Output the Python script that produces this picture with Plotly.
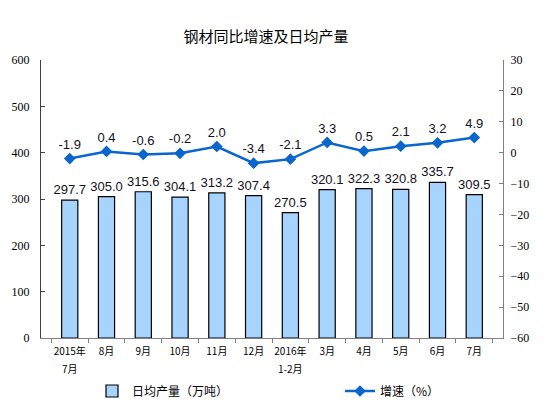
import plotly.graph_objects as go

# data
MONTHS = ["2015年", "8月", "9月", "10月", "11月", "12月",
          "2016年", "3月", "4月", "5月", "6月", "7月"]
MONTHS_LINE2 = ["7月", "", "", "", "", "", "1-2月", "", "", "", "", ""]
DAILY_OUTPUT = [297.7, 305.0, 315.6, 304.1, 313.2, 307.4,
                270.5, 320.1, 322.3, 320.8, 335.7, 309.5]
GROWTH = [-1.9, 0.4, -0.6, -0.2, 2.0, -3.4, -2.1, 3.3, 0.5, 2.1, 3.2, 4.9]

BAR_FILL = "#A6D4FF"
LINE_BLUE = "#0A66CC"
CJK = "Noto Sans CJK SC"
NUM = "Liberation Sans"
AXIS_NUM = "Liberation Serif"

fig = go.Figure()

fig.add_trace(
    go.Bar(
        x=MONTHS,
        y=DAILY_OUTPUT,
        name="日均产量（万吨）",
        marker=dict(color=BAR_FILL, line=dict(color="#000000", width=1.2)),
        text=[f"{v:.1f}" for v in DAILY_OUTPUT],
        textposition="outside",
        constraintext="none",
        textfont=dict(family=NUM, size=13, color="#111122"),
        cliponaxis=False,
        yaxis="y",
        legend="legend",
    )
)

fig.add_trace(
    go.Scatter(
        x=MONTHS,
        y=GROWTH,
        name="增速（%）",
        mode="lines+markers+text",
        line=dict(color=LINE_BLUE, width=2.5),
        marker=dict(symbol="diamond", size=9, color=LINE_BLUE),
        text=[f"{v:.1f}" for v in GROWTH],
        textposition="top center",
        textfont=dict(family=NUM, size=13, color="#111122"),
        cliponaxis=False,
        yaxis="y2",
        legend="legend2",
    )
)

# second line of the two-row category labels
for month, extra in zip(MONTHS, MONTHS_LINE2):
    if extra:
        fig.add_annotation(
            x=month, xref="x", y=0, yref="paper",
            text=extra, showarrow=False,
            yanchor="top", yshift=-21,
            font=dict(family=CJK, size=10, color="#000000"),
        )

legend_common = dict(
    orientation="h",
    xref="container",
    yref="container",
    xanchor="left",
    yanchor="middle",
    font=dict(family=CJK, size=12, color="#000000"),
    bgcolor="rgba(0,0,0,0)",
)

fig.update_layout(
    width=554,
    height=412,
    plot_bgcolor="white",
    paper_bgcolor="white",
    margin=dict(l=41, r=51, t=60, b=74),
    bargap=0.56,
    showlegend=True,
    title=dict(
        text="钢材同比增速及日均产量",
        x=0.48,
        xanchor="center",
        y=0.91,
        yanchor="middle",
        font=dict(family=CJK, size=15, color="#000000"),
    ),
    xaxis=dict(
        type="category",
        showline=True,
        linecolor="#808080",
        linewidth=1,
        ticks="outside",
        tickson="boundaries",
        ticklen=4,
        tickcolor="#808080",
        tickangle=0,
        ticklabelstandoff=4,
        tickfont=dict(family=CJK, size=10, color="#000000"),
        showgrid=False,
        automargin=False,
    ),
    yaxis=dict(
        range=[0, 600],
        dtick=100,
        showline=True,
        linecolor="#404040",
        linewidth=1,
        ticks="inside",
        ticklen=4,
        tickcolor="#404040",
        ticklabelstandoff=8,
        showgrid=False,
        zeroline=False,
        automargin=False,
        tickfont=dict(family=AXIS_NUM, size=12, color="#000000"),
    ),
    yaxis2=dict(
        range=[-60, 30],
        dtick=10,
        overlaying="y",
        side="right",
        showline=True,
        linecolor="#808080",
        linewidth=1,
        ticks="inside",
        ticklen=4,
        tickcolor="#808080",
        ticklabelstandoff=4,
        showgrid=False,
        zeroline=False,
        automargin=False,
        tickfont=dict(family=AXIS_NUM, size=12, color="#000000"),
    ),
    legend=dict(legend_common, x=92 / 554, y=21 / 412),
    legend2=dict(legend_common, x=340 / 554, y=21 / 412),
)

fig.write_html(
    "out.html",
    config={"displayModeBar": False},
    post_script="document.body.style.margin = '0';",
)
